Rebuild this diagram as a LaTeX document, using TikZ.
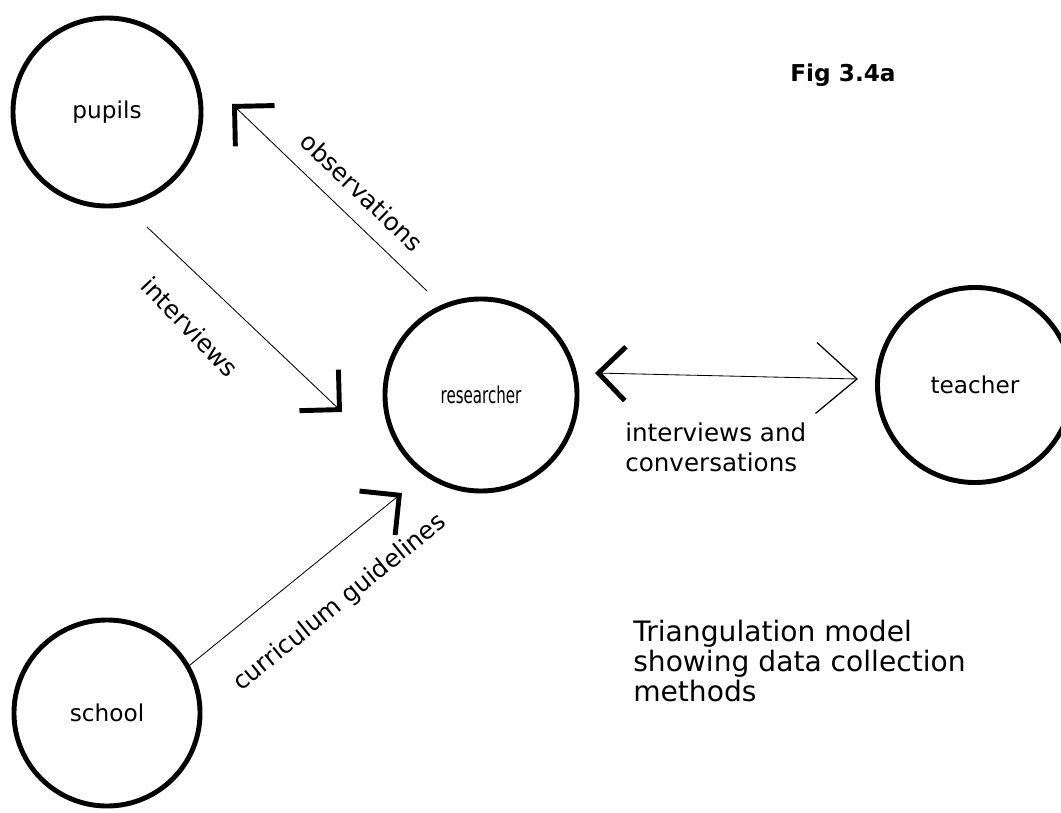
\documentclass[tikz,border=0pt]{standalone}
\usepackage{graphicx}
\usepackage{fontspec}
\setmainfont{DejaVu Sans}
\usetikzlibrary{arrows.meta}

\begin{document}
\begin{tikzpicture}[x=0.025cm,y=-0.025cm,
    party/.style={draw,circle,line width=3.5pt,inner sep=0pt,
                  font=\fontsize{16.5}{20}\selectfont},
    link/.style={line width=0.6pt},
    barb/.style={-{Straight Barb[angle=90:1cm,line width=3.5pt]}},
    lbl/.style={inner sep=0pt,font=\fontsize{17.5}{21.3}\selectfont}]
  \useasboundingbox (0,0) rectangle (1061,813);
  % the four circles
  \node[party,minimum size=4.7cm]   (pupils)     at (107,112) {pupils};
  \node[party,minimum size=4.8cm]   (researcher) at (481,395) {\scalebox{0.65}[1]{researcher}};
  \node[party,minimum size=4.875cm] (teacher)    at (975,385) {teacher};
  \node[party,minimum size=4.65cm]  (school)     at (107,713) {school};
  % free ends of the connectors
  \coordinate (obsFoot) at (427,291);
  \coordinate (obsTip)  at (232,104);
  \coordinate (intFoot) at (147,227);
  \coordinate (intTip)  at (342,412);
  \coordinate (curTip)  at (402,493);
  \coordinate (talkL)   at (595,373);
  \coordinate (talkR)   at (858,379);
  % connectors
  \draw[link,barb] (obsFoot) -- (obsTip);
  \draw[link,barb] (intFoot) -- (intTip);
  \draw[link,barb] (school.30) -- (curTip);
  \draw[link,{Straight Barb[angle=90:0.95cm,line width=3.5pt]}-{Straight Barb[angle=82:1.35cm,line width=0.9pt]}]
    (talkL) -- (talkR);
  % labels
  \node[lbl,rotate=-44] (obsLbl) at (362,192) {observations};
  \node[lbl,rotate=-46] (intLbl) at (190,327) {interviews};
  \node[lbl,rotate=39]  (curLbl) at (340,603) {curriculum guidelines};
  \node[lbl,anchor=north west,align=left] (talkLbl) at (625,423)
    {interviews and\\conversations};
  \node[inner sep=0pt,anchor=north west,align=left,font=\fontsize{20}{21.3}\selectfont]
    (caption) at (633,620) {Triangulation model\\showing data collection\\methods};
  \node[font=\bfseries\fontsize{16.5}{20}\selectfont] (figno) at (843,75) {Fig 3.4a};
\end{tikzpicture}
\end{document}
